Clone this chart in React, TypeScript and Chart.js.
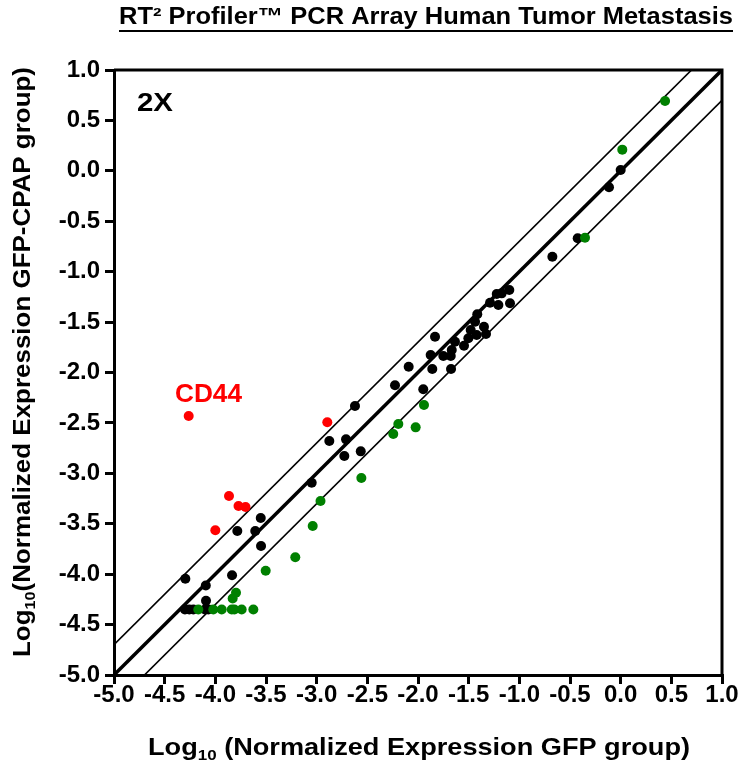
import React, { useEffect, useRef } from 'react';
import { Chart, registerables } from 'chart.js';

Chart.register(...registerables);

const FONT = '"Liberation Sans", Arial, Helvetica, sans-serif';

// axis ticks
const axisMin = -5;
const axisMax = 1;
const tickStep = 0.5;

// unchanged genes (black)
const blackX = [0.0, -0.115, -0.424, -0.674, -1.099, -1.174, -1.223, -1.289, -1.207, -1.092, -1.415, -1.437, -1.349, -1.48, -1.421, -1.329, -1.503, -1.635, -1.546, -1.832, -1.667, -1.75, -1.677, -1.875, -1.859, -1.674, -2.092, -2.227, -1.948, -2.622, -2.875, -2.71, -2.565, -2.727, -3.049, -3.552, -3.783, -3.606, -3.549, -4.296, -4.094, -3.835, -4.092, -4.30, -4.257, -4.217, -4.102, -4.069];
const blackY = [0.008, -0.163, -0.669, -0.852, -1.182, -1.215, -1.222, -1.308, -1.331, -1.314, -1.423, -1.496, -1.546, -1.579, -1.628, -1.618, -1.661, -1.695, -1.734, -1.645, -1.777, -1.836, -1.836, -1.827, -1.965, -1.965, -1.943, -2.127, -2.167, -2.332, -2.679, -2.663, -2.782, -2.828, -3.093, -3.443, -3.572, -3.572, -3.721, -4.045, -4.113, -4.011, -4.264, -4.35, -4.35, -4.35, -4.35, -4.35];

// down-regulated genes (green)
const greenX = [0.438, 0.016, -0.352, -1.941, -2.194, -2.023, -2.244, -2.559, -2.962, -3.039, -3.211, -3.503, -3.796, -3.829, -4.168, -4.020, -3.937, -3.838, -3.812, -3.740, -3.625];
const greenY = [0.693, 0.210, -0.663, -2.322, -2.511, -2.544, -2.610, -3.046, -3.275, -3.522, -3.833, -3.966, -4.185, -4.241, -4.35, -4.35, -4.35, -4.35, -4.35, -4.35, -4.35];

// up-regulated genes (red)
const redX = [-4.263, -2.895, -3.865, -3.771, -3.702, -4.0];
const redY = [-2.431, -2.494, -3.225, -3.324, -3.334, -3.565];

// reference lines: identity and 2-fold boundaries
const identityX = [-5, 1];
const identityY = [-5, 1];
const upperX = [-5, 1];
const upperY = [-4.699, 1.301];
const lowerX = [-5, 1];
const lowerY = [-5.301, 0.699];

const titleText = 'RT\u00B2 Profiler\u2122 PCR Array Human Tumor Metastasis';
const xTitleRest = ' (Normalized Expression GFP group)';
const yTitleRest = '(Normalized Expression GFP-CPAP group)';
const foldLabel = '2X';
const highlightLabel = 'CD44';

const toPts = (xs: number[], ys: number[]) => xs.map((x, i) => ({ x, y: ys[i] }));

function drawLogLabel(ctx: CanvasRenderingContext2D, cx: number, cy: number, rest: string, size: number, targetW: number, rotate: boolean) {
  ctx.save();
  ctx.translate(cx, cy);
  if (rotate) ctx.rotate(-Math.PI / 2);
  const big = `bold ${size}px ${FONT}`;
  const small = `bold ${Math.round(size * 0.62)}px ${FONT}`;
  ctx.font = big;
  const w1 = ctx.measureText('Log').width;
  const w3 = ctx.measureText(rest).width;
  ctx.font = small;
  const w2 = ctx.measureText('10').width;
  const total = w1 + w2 + w3;
  const sx = targetW / total;
  ctx.scale(sx, 1);
  let x = -total / 2;
  ctx.textBaseline = 'middle';
  ctx.textAlign = 'left';
  ctx.fillStyle = '#000';
  ctx.font = big;
  ctx.fillText('Log', x, 0);
  x += w1;
  ctx.font = small;
  ctx.fillText('10', x, size * 0.32);
  x += w2;
  ctx.font = big;
  ctx.fillText(rest, x, 0);
  ctx.restore();
}

function drawFit(ctx: CanvasRenderingContext2D, text: string, left: number, cy: number, size: number, targetW: number, color: string) {
  ctx.save();
  ctx.font = `bold ${size}px ${FONT}`;
  const w = ctx.measureText(text).width;
  ctx.translate(left, cy);
  ctx.scale(targetW / w, 1);
  ctx.fillStyle = color;
  ctx.textBaseline = 'middle';
  ctx.textAlign = 'left';
  ctx.fillText(text, 0, 0);
  ctx.restore();
}

const overlayPlugin = {
  id: 'overlay',
  afterDraw(chart: any) {
    const ctx: CanvasRenderingContext2D = chart.ctx;
    const { left, right, top, bottom } = chart.chartArea;
    ctx.save();
    // top and right frame
    ctx.strokeStyle = '#000';
    ctx.lineWidth = 3;
    ctx.beginPath();
    ctx.moveTo(left, top);
    ctx.lineTo(right, top);
    ctx.lineTo(right, bottom);
    ctx.stroke();

    // title (right aligned, underlined)
    const targetW = 614;
    const tRight = 733;
    drawFit(ctx, titleText, tRight - targetW, 18, 23, targetW, '#000');
    ctx.fillStyle = '#000';
    ctx.fillRect(tRight - targetW, 30, targetW, 2);

    // annotations
    drawFit(ctx, foldLabel, 137, 104, 25, 36, '#000');
    drawFit(ctx, highlightLabel, 175, 395, 25, 67, '#ff0000');

    // axis titles
    drawLogLabel(ctx, 419, 748, xTitleRest, 24, 542, false);
    drawLogLabel(ctx, 23, 362, yTitleRest, 24, 590, true);
    ctx.restore();
  },
};

export default function App() {
  const ref = useRef<HTMLCanvasElement | null>(null);
  useEffect(() => {
    if (!ref.current) return;
    const pointDs = (label: string, xs: number[], ys: number[], color: string) => ({
      type: 'scatter' as const,
      label,
      data: toPts(xs, ys),
      backgroundColor: color,
      borderColor: color,
      borderWidth: 0,
      pointRadius: 5,
      pointHoverRadius: 5,
      showLine: false,
    });
    const lineDs = (label: string, xs: number[], ys: number[], w: number) => ({
      type: 'scatter' as const,
      label,
      data: toPts(xs, ys),
      borderColor: '#000',
      backgroundColor: '#000',
      borderWidth: w,
      pointRadius: 0,
      showLine: true,
      fill: false,
    });
    const tickFont = { family: FONT, size: 24, weight: 'bold' as const };
    const chart = new Chart(ref.current, {
      type: 'scatter',
      data: {
        datasets: [
          pointDs('red', redX, redY, '#ff0000'),
          pointDs('green', greenX, greenY, '#008000'),
          pointDs('black', blackX, blackY, '#000000'),
          lineDs('identity', identityX, identityY, 3.5),
          lineDs('upper', upperX, upperY, 1.6),
          lineDs('lower', lowerX, lowerY, 1.6),
        ] as any,
      },
      options: {
        animation: false,
        responsive: false,
        devicePixelRatio: 1,
        layout: { padding: { left: 0, top: 70, right: 22, bottom: 0 } },
        plugins: { legend: { display: false }, tooltip: { enabled: false }, title: { display: false } },
        scales: {
          x: {
            type: 'linear',
            min: axisMin,
            max: axisMax,
            afterFit: (s: any) => { s.height = 95; },
            grid: { drawOnChartArea: false, drawTicks: true, tickLength: 9, color: '#000', lineWidth: 3 },
            border: { display: true, color: '#000', width: 3 },
            ticks: {
              stepSize: tickStep,
              color: '#000',
              font: tickFont,
              padding: -3,
              maxRotation: 0,
              autoSkip: false,
              callback: (v: any) => Number(v).toFixed(1),
            },
          },
          y: {
            type: 'linear',
            min: axisMin,
            max: axisMax,
            afterFit: (s: any) => { s.width = 114; },
            grid: { drawOnChartArea: false, drawTicks: true, tickLength: 9, color: '#000', lineWidth: 3 },
            border: { display: true, color: '#000', width: 3 },
            ticks: {
              stepSize: tickStep,
              color: '#000',
              font: tickFont,
              padding: 5,
              autoSkip: false,
              callback: (v: any) => Number(v).toFixed(1),
            },
          },
        },
      } as any,
      plugins: [overlayPlugin],
    });
    return () => chart.destroy();
  }, []);
  return (
    <div style={{ position: 'absolute', left: 0, top: 0, width: 744, height: 770, background: '#fff' }}>
      <canvas ref={ref} width={744} height={770} style={{ display: 'block', width: 744, height: 770 }} />
    </div>
  );
}
